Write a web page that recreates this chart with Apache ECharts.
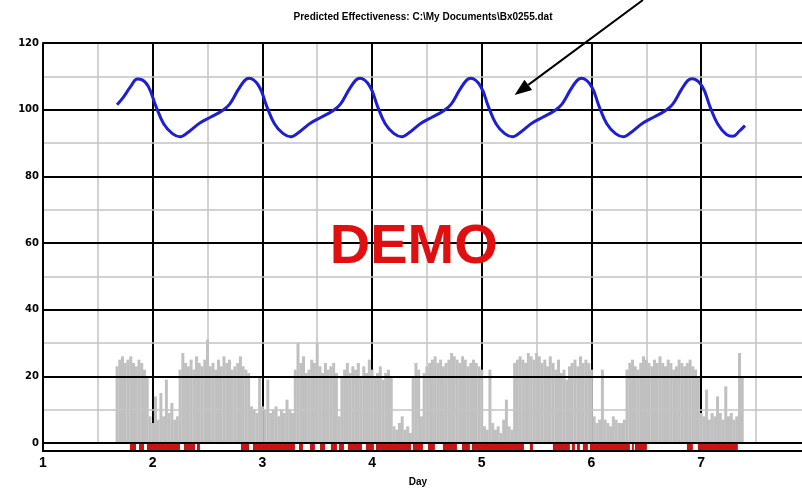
<!DOCTYPE html>
<html><head><meta charset="utf-8">
<script src="https://cdn.jsdelivr.net/npm/echarts@6/dist/echarts.min.js"></script>
<style>html,body{margin:0;padding:0;background:#fff}#c{width:802px;height:489px}</style>
</head><body><div id="c"></div>
<script>
const titleText = 'Predicted Effectiveness: C:\\My Documents\\Bx0255.dat';
const xAxisName = 'Day';
const demoText = 'DEMO';
const xMin = 1, xMax = 7.92;

// Predicted effectiveness curve (day, value)
const effDays = [1.675,1.73,1.80,1.86,1.90,
  1.96,2.03,2.10,2.18,2.25,2.33,2.43,2.53,2.63,2.70,2.78,2.84,2.88,
  2.97,3.04,3.11,3.19,3.26,3.34,3.44,3.54,3.64,3.71,3.79,3.85,3.89,
  3.98,4.05,4.12,4.20,4.27,4.35,4.45,4.55,4.65,4.72,4.80,4.86,4.90,
  4.99,5.06,5.13,5.21,5.28,5.36,5.46,5.56,5.66,5.73,5.81,5.87,5.91,
  6.00,6.07,6.14,6.22,6.29,6.37,6.47,6.57,6.67,6.74,6.82,6.88,6.92,
  7.01,7.08,7.15,7.23,7.29,7.35,7.40];
const effValues = [101.5,103.6,107.0,109.2,109.0,
  107.0,101.0,95.8,92.8,91.9,93.4,96.0,97.8,99.6,101.6,106.0,108.8,109.4,
  107.0,101.0,95.8,92.8,91.9,93.4,96.0,97.8,99.6,101.6,106.0,108.8,109.4,
  107.0,101.0,95.8,92.8,91.9,93.4,96.0,97.8,99.6,101.6,106.0,108.8,109.4,
  107.0,101.0,95.8,92.8,91.9,93.4,96.0,97.8,99.6,101.6,106.0,108.8,109.4,
  107.0,101.0,95.8,92.8,91.9,93.4,96.0,97.8,99.6,101.6,106.0,108.8,109.3,
  107.0,101.0,95.8,92.6,92.0,93.6,95.2];

// Activity (gray bars), sampled every activityStep days starting at activityStart
const activityStart = 1.675;
const activityStep = 0.025;
const activityValues = [
  23,25,26,24,25,26,24,23,25,24,22,20,
  8,6,14,7,15,8,19,9,12,7,8,
  22,27,24,23,25,22,26,24,23,25,31,23,24,22,25,23,26,24,25,22,23,24,26,23,22,21,
  11,10,9,20,11,10,19,9,10,11,8,10,9,13,10,9,
  22,30,24,26,21,22,25,24,30,23,21,24,22,23,24,21,8,
  20,22,24,21,23,22,24,20,23,21,25,22,20,21,23,19,21,22,20,
  5,4,6,8,4,5,3,
  20,24,22,8,21,
  23,24,25,26,24,25,23,24,25,27,26,25,24,26,25,23,24,25,24,23,22,
  5,4,22,6,4,5,3,7,13,5,4,
  24,25,26,25,24,27,26,25,27,26,24,25,23,26,24,22,25,21,22,19,23,24,25,23,26,24,25,24,22,
  8,6,7,22,7,6,5,8,7,6,6,7,
  22,24,25,23,22,24,26,25,24,23,25,24,26,24,23,25,24,22,23,25,24,23,24,25,23,22,20,
  9,8,16,7,9,8,14,9,7,17,8,9,7,8,27,20];

// Red marker segments in the strip below zero (start day, end day)
const markStarts = [1.793,1.875,1.948,2.285,2.404,2.805,2.914,3.334,3.434,3.525,3.625,3.698,3.780,3.944,4.036,4.373,4.510,4.646,4.820,4.911,5.439,5.649,5.822,5.868,5.922,5.986,6.369,6.397,6.871,6.971];
const markEnds   = [1.848,1.921,2.249,2.386,2.431,2.878,3.297,3.370,3.479,3.571,3.680,3.744,3.908,4.017,4.355,4.464,4.573,4.774,4.892,5.385,5.467,5.804,5.850,5.895,5.968,6.351,6.387,6.506,6.925,7.335];

// Arrow annotation (data coords): from -> to
const arrowFrom = [6.47, 132.9];
const arrowTo = [5.30, 104.4];
const demoAt = [4.38, 58.5];

const effData = effDays.map((d, i) => [d, effValues[i]]);
const actData = activityValues.map((v, i) => [+(activityStart + activityStep * i).toFixed(3), v]);
const markData = markStarts.map((s, i) => [s, markEnds[i]]);

const chart = echarts.init(document.getElementById('c'), null, {renderer: 'canvas'});
const FONT = 'Liberation Sans';
chart.setOption({
  animation: false,
  backgroundColor: '#fff',
  title: {text: titleText, left: 418, top: 7, textAlign: 'center',
    textStyle: {fontFamily: FONT, fontSize: 10, fontWeight: 'bold', color: '#000'}},
  grid: [
    {left: 43, top: 43, right: 0, bottom: 46},
    {left: 43, top: 443, right: 0, bottom: 38}
  ],
  xAxis: [
    {gridIndex: 0, type: 'value', min: xMin, max: xMax, interval: 1, z: 1,
      axisLine: {show: false}, axisTick: {show: false}, axisLabel: {show: false},
      splitLine: {show: true, showMaxLine: false, lineStyle: {color: '#000', width: 2}},
      minorTick: {show: false, splitNumber: 2},
      minorSplitLine: {show: true, lineStyle: {color: '#c4c4c4', width: 1.5}}},
    {gridIndex: 1, type: 'value', min: xMin, max: xMax, interval: 1, z: 4,
      axisLine: {show: true, lineStyle: {color: '#000', width: 2}},
      axisTick: {show: false},
      axisLabel: {show: true, showMaxLabel: false, margin: 5, fontFamily: FONT, fontSize: 14, fontWeight: 'bold', color: '#000'},
      splitLine: {show: false}}
  ],
  yAxis: [
    {gridIndex: 0, type: 'value', min: 0, max: 120, interval: 20, z: 3,
      axisLine: {show: true, lineStyle: {color: '#000', width: 2}},
      axisTick: {show: false},
      axisLabel: {show: true, margin: 4, fontFamily: 'DejaVu Sans', fontSize: 10, fontWeight: 'bold', color: '#000'},
      splitLine: {show: true, lineStyle: {color: '#000', width: 2}},
      minorTick: {show: false, splitNumber: 2},
      minorSplitLine: {show: true, lineStyle: {color: '#c4c4c4', width: 1.5}}},
    {gridIndex: 1, type: 'value', min: 0, max: 1, z: 4,
      axisLine: {show: true, lineStyle: {color: '#000', width: 2}},
      axisTick: {show: false}, axisLabel: {show: false}, splitLine: {show: false}}
  ],
  series: [
    {type: 'bar', xAxisIndex: 0, yAxisIndex: 0, data: actData, barWidth: 3, z: 2,
      itemStyle: {color: '#c0c0c0'}, silent: true},
    {type: 'line', xAxisIndex: 0, yAxisIndex: 0, data: effData, smooth: 0.4, z: 5,
      showSymbol: false, symbol: 'none', lineStyle: {color: '#1e1ed2', width: 3}},
    {type: 'custom', xAxisIndex: 1, yAxisIndex: 1, data: markData, z: 2,
      encode: {x: [0, 1]},
      renderItem: function (params, api) {
        const s = api.coord([api.value(0), 1]);
        const e = api.coord([api.value(1), 0]);
        return {type: 'rect', shape: {x: s[0], y: s[1], width: e[0] - s[0], height: e[1] - s[1]},
          style: {fill: '#c81414'}};
      }}
  ]
});

const pFrom = chart.convertToPixel({gridIndex: 0}, arrowFrom);
const pTo = chart.convertToPixel({gridIndex: 0}, arrowTo);
const pDemo = chart.convertToPixel({gridIndex: 0}, demoAt);
const ang = Math.atan2(pTo[1] - pFrom[1], pTo[0] - pFrom[0]);
const L = 17, W = 6.5;
const bx = pTo[0] - L * Math.cos(ang), by = pTo[1] - L * Math.sin(ang);
const head = [[pTo[0], pTo[1]],
  [bx + W * Math.sin(ang), by - W * Math.cos(ang)],
  [bx - W * Math.sin(ang), by + W * Math.cos(ang)]];
chart.setOption({
  graphic: [
    {type: 'line', z: 20, shape: {x1: pFrom[0], y1: pFrom[1], x2: bx, y2: by}, style: {stroke: '#000', lineWidth: 2}},
    {type: 'polygon', z: 20, shape: {points: head}, style: {fill: '#000'}},
    {type: 'text', z: 20, x: pDemo[0], y: pDemo[1],
      style: {text: demoText, fill: '#e01010', font: 'bold 56px "Liberation Sans"', align: 'center', verticalAlign: 'middle'}},
    {type: 'text', z: 20, x: 418, y: 482,
      style: {text: xAxisName, fill: '#000', font: 'bold 10px "Liberation Sans"', align: 'center', verticalAlign: 'middle'}}
  ]
});
</script>
</body></html>
